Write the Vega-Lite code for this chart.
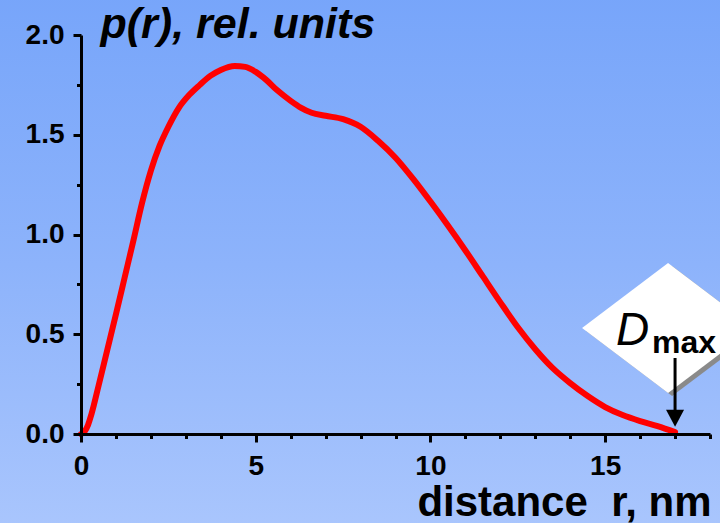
{
  "$schema": "https://vega.github.io/schema/vega-lite/v6.json",
  "width": 629,
  "height": 399,
  "autosize": "none",
  "padding": {"left": 81, "top": 35, "right": 10, "bottom": 89},
  "background": "#8db3fb",
  "config": {"view": {"stroke": null}, "font": "Liberation Sans"},
  "datasets": {
    "curve": [
      {"r": 0, "p": 0}, {"r": 0.1, "p": 0.012}, {"r": 0.2, "p": 0.045}, {"r": 0.3, "p": 0.1}, {"r": 0.5, "p": 0.24},
      {"r": 0.75, "p": 0.42}, {"r": 1.0, "p": 0.6}, {"r": 1.25, "p": 0.785}, {"r": 1.5, "p": 0.97},
      {"r": 1.75, "p": 1.16}, {"r": 2.0, "p": 1.32}, {"r": 2.25, "p": 1.445}, {"r": 2.5, "p": 1.54},
      {"r": 2.8, "p": 1.635}, {"r": 3.1, "p": 1.7}, {"r": 3.4, "p": 1.75}, {"r": 3.7, "p": 1.795},
      {"r": 4.0, "p": 1.825}, {"r": 4.4, "p": 1.845}, {"r": 4.7, "p": 1.84}, {"r": 5.0, "p": 1.815},
      {"r": 5.3, "p": 1.775}, {"r": 5.6, "p": 1.725}, {"r": 6.0, "p": 1.67}, {"r": 6.3, "p": 1.635},
      {"r": 6.6, "p": 1.61}, {"r": 7.0, "p": 1.595}, {"r": 7.5, "p": 1.578}, {"r": 8.0, "p": 1.54},
      {"r": 8.5, "p": 1.47}, {"r": 9.0, "p": 1.385}, {"r": 9.5, "p": 1.28}, {"r": 10.0, "p": 1.165},
      {"r": 10.5, "p": 1.045}, {"r": 11.0, "p": 0.92}, {"r": 11.5, "p": 0.79}, {"r": 12.0, "p": 0.66},
      {"r": 12.5, "p": 0.535}, {"r": 13.0, "p": 0.425}, {"r": 13.5, "p": 0.33}, {"r": 14.0, "p": 0.255},
      {"r": 14.5, "p": 0.19}, {"r": 15.0, "p": 0.135}, {"r": 15.5, "p": 0.095}, {"r": 16.0, "p": 0.065},
      {"r": 16.5, "p": 0.04}, {"r": 17.0, "p": 0.01}
    ]
  },
  "resolve": {"axis": {"x": "independent", "y": "independent"}},
  "layer": [
    {
      "data": {"values": [{}]},
      "mark": {
        "type": "rect",
        "fill": {
          "gradient": "linear", "x1": 0, "y1": 0, "x2": 0, "y2": 1,
          "stops": [
            {"offset": 0, "color": "#77a5fa"},
            {"offset": 0.5, "color": "#8db3fb"},
            {"offset": 1, "color": "#aac6fd"}
          ]
        }
      },
      "encoding": {
        "x": {"datum": -2.6, "type": "quantitative", "scale": {"domain": [0, 18], "nice": false, "zero": false}, "axis": null},
        "x2": {"datum": 18.8},
        "y": {"datum": 2.2, "type": "quantitative", "scale": {"domain": [0, 2], "nice": false}, "axis": null},
        "y2": {"datum": -0.5}
      }
    },
    {
      "data": {"name": "curve"},
      "mark": {"type": "line", "color": "#ff0000", "strokeWidth": 6, "interpolate": "monotone", "strokeCap": "round"},
      "encoding": {
        "x": {
          "field": "r", "type": "quantitative",
          "scale": {"domain": [0, 18], "nice": false, "zero": false},
          "axis": {
            "orient": "bottom", "zindex": 1,
            "values": [0, 5, 10, 15], "format": "d",
            "labelFont": "Liberation Sans", "labelFontSize": 28, "labelFontWeight": "bold", "labelColor": "black",
            "labelPadding": 10, "labelFlush": false, "labelOverlap": false,
            "tickSize": 8, "tickWidth": 3, "tickColor": "black",
            "domainColor": "black", "domainWidth": 3, "grid": false,
            "title": "distance\u00a0\u00a0r, nm", "titleFont": "Liberation Sans", "titleFontSize": 42, "titleFontWeight": "bold", "titleColor": "black",
            "titleX": 630, "titleY": 81, "titleAlign": "right", "titleBaseline": "alphabetic"
          }
        },
        "y": {
          "field": "p", "type": "quantitative",
          "scale": {"domain": [0, 2], "nice": false},
          "axis": {
            "orient": "left", "zindex": 1,
            "values": [0, 0.5, 1, 1.5, 2], "format": ".1f",
            "labelFont": "Liberation Sans", "labelFontSize": 28, "labelFontWeight": "bold", "labelColor": "black",
            "labelPadding": 9, "labelFlush": false, "labelOverlap": false,
            "tickSize": 8, "tickWidth": 3, "tickColor": "black",
            "domainColor": "black", "domainWidth": 3, "grid": false,
            "title": "p(r), rel. units", "titleFont": "Liberation Sans", "titleFontSize": 43, "titleFontWeight": "bold", "titleFontStyle": "italic", "titleColor": "black",
            "titleAngle": 0, "titleX": 19, "titleY": 2, "titleAlign": "left", "titleBaseline": "alphabetic"
          }
        }
      }
    },
    {
      "data": {"name": "curve"},
      "mark": {"type": "point", "opacity": 0},
      "encoding": {
        "x": {
          "field": "r", "type": "quantitative",
          "scale": {"domain": [0, 18], "nice": false, "zero": false},
          "axis": {
            "orient": "bottom", "zindex": 1,
            "values": [1, 2, 3, 4, 6, 7, 8, 9, 11, 12, 13, 14, 16, 17, 18],
            "labels": false, "domain": false, "grid": false,
            "tickSize": 4.5, "tickWidth": 3, "tickColor": "black", "title": null
          }
        },
        "y": {
          "field": "p", "type": "quantitative",
          "scale": {"domain": [0, 2], "nice": false},
          "axis": {
            "orient": "left", "zindex": 1,
            "values": [0.25, 0.75, 1.25, 1.75],
            "labels": false, "domain": false, "grid": false,
            "tickSize": 4.5, "tickWidth": 3, "tickColor": "black", "title": null
          }
        }
      }
    },
    {
      "data": {"values": [{}]},
      "mark": {"type": "point", "filled": true, "color": "#8a8a8a", "opacity": 1, "size": 29584,
               "shape": "M-0.953,0.035L0.047,-0.721L1.047,0.035L0.047,0.791Z"},
      "encoding": {
        "x": {"datum": 16.8, "type": "quantitative", "scale": {"domain": [0, 18], "nice": false, "zero": false}, "axis": null},
        "y": {"datum": 0.531, "type": "quantitative", "scale": {"domain": [0, 2], "nice": false}, "axis": null}
      }
    },
    {
      "data": {"values": [{}]},
      "mark": {"type": "point", "filled": true, "color": "#ffffff", "opacity": 1, "size": 29584,
               "shape": "M-1,0L0,-0.756L1,0L0,0.756Z"},
      "encoding": {
        "x": {"datum": 16.8, "type": "quantitative", "scale": {"domain": [0, 18], "nice": false, "zero": false}, "axis": null},
        "y": {"datum": 0.531, "type": "quantitative", "scale": {"domain": [0, 2], "nice": false}, "axis": null}
      }
    },
    {
      "data": {"values": [{}]},
      "mark": {"type": "rule", "color": "black", "strokeWidth": 3},
      "encoding": {
        "x": {"datum": 17, "type": "quantitative", "scale": {"domain": [0, 18], "nice": false, "zero": false}, "axis": null},
        "y": {"datum": 0.381, "type": "quantitative", "scale": {"domain": [0, 2], "nice": false}, "axis": null},
        "y2": {"datum": 0.11}
      }
    },
    {
      "data": {"values": [{}]},
      "mark": {"type": "point", "filled": true, "color": "black", "opacity": 1, "size": 324,
               "shape": "M-1,-0.94L1,-0.94L0,0.94Z"},
      "encoding": {
        "x": {"datum": 17, "type": "quantitative", "scale": {"domain": [0, 18], "nice": false, "zero": false}, "axis": null},
        "y": {"datum": 0.079, "type": "quantitative", "scale": {"domain": [0, 2], "nice": false}, "axis": null}
      }
    },
    {
      "data": {"values": [{}]},
      "mark": {"type": "text", "text": "D", "font": "Liberation Sans", "fontSize": 46, "fontStyle": "italic", "fontWeight": "normal",
               "align": "left", "baseline": "alphabetic", "dx": -59, "color": "black"},
      "encoding": {
        "x": {"datum": 17, "type": "quantitative", "scale": {"domain": [0, 18], "nice": false, "zero": false}, "axis": null},
        "y": {"datum": 0.445, "type": "quantitative", "scale": {"domain": [0, 2], "nice": false}, "axis": null}
      }
    },
    {
      "data": {"values": [{}]},
      "mark": {"type": "text", "text": "max", "font": "Liberation Sans", "fontSize": 32, "fontWeight": "bold",
               "align": "left", "baseline": "alphabetic", "dx": -23, "dy": 8, "color": "black"},
      "encoding": {
        "x": {"datum": 17, "type": "quantitative", "scale": {"domain": [0, 18], "nice": false, "zero": false}, "axis": null},
        "y": {"datum": 0.445, "type": "quantitative", "scale": {"domain": [0, 2], "nice": false}, "axis": null}
      }
    }
  ]
}
